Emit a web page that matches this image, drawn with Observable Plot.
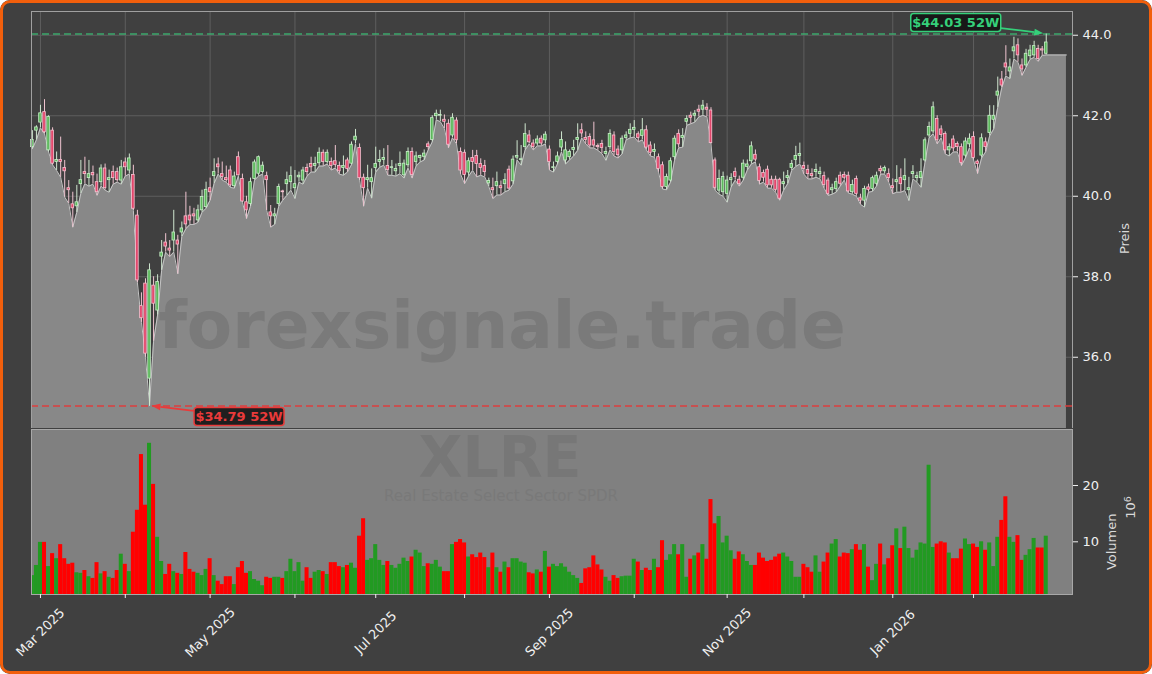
<!DOCTYPE html>
<html><head><meta charset="utf-8">
<script src="https://cdn.jsdelivr.net/npm/d3@7"></script>
<script src="https://cdn.jsdelivr.net/npm/@observablehq/plot@0.6"></script>
<style>
html,body{margin:0;padding:0;background:#ffffff;}
#card{position:relative;width:1152px;height:674px;background:#404040;overflow:hidden;border-radius:10px;}
#border{position:absolute;left:0;top:0;width:1152px;height:674px;box-sizing:border-box;border:3px solid #f25f0c;border-radius:10px;pointer-events:none;}
#price,#vol{position:absolute;left:0;}
#price{top:0;} #vol{top:400px;pointer-events:none;}
</style></head><body>
<div id="card"><div id="price"></div><div id="vol"></div><div id="border"></div></div>
<script>
// ---- data: one value per trading day, 27 Feb 2025 .. 27 Feb 2026 ----
const opens = [41.22,41.63,41.83,42.09,41.14,41.63,40.85,40.90,40.70,40.20,
39.80,39.75,40.30,40.60,40.45,40.58,40.35,40.35,40.69,40.40,
40.60,40.60,40.39,40.84,40.64,40.53,39.52,37.27,37.83,35.47,
37.78,37.16,38.50,38.85,38.70,38.90,38.90,39.10,39.50,39.52,
39.55,39.40,39.65,39.73,40.20,40.50,40.79,40.55,40.45,40.64,
40.25,40.97,40.43,39.85,39.81,40.43,40.56,40.60,40.50,39.60,
39.50,39.81,40.12,40.30,40.35,40.20,40.47,40.39,40.70,40.80,
40.75,40.82,41.08,40.85,40.85,40.87,40.75,40.70,40.89,40.81,
41.39,41.20,40.46,40.40,40.35,40.70,40.85,40.90,40.75,40.70,
40.62,40.75,40.52,40.77,41.10,40.85,40.95,40.98,41.29,41.40,
41.99,42.00,41.90,41.80,41.51,41.88,41.10,41.08,40.59,40.95,
41.00,40.80,40.75,40.32,40.20,40.25,40.25,40.30,40.66,40.37,
40.96,40.90,41.22,41.51,41.31,41.31,41.43,41.39,41.16,40.70,
40.85,41.21,40.89,40.97,41.15,41.40,41.64,41.45,41.47,41.39,
41.25,41.30,41.05,41.22,41.51,41.16,41.14,41.45,41.55,41.65,
41.54,41.50,41.64,41.26,41.10,40.97,40.77,40.23,40.39,40.97,
41.55,41.45,41.85,42.00,42.00,42.15,42.15,42.20,42.13,40.89,
40.14,40.10,40.06,40.40,40.60,40.41,40.46,40.73,40.87,41.03,
40.72,40.58,40.66,40.41,40.41,40.41,40.30,40.45,40.70,40.90,
41.00,40.75,40.65,40.55,40.60,40.55,40.50,40.39,40.15,40.18,
40.51,40.53,40.51,40.10,40.43,39.95,39.89,40.22,40.18,40.31,
40.68,40.62,40.55,40.25,40.35,40.45,40.40,40.15,40.55,40.45,
40.45,40.89,41.51,41.61,41.92,41.66,41.55,41.14,41.41,41.30,
41.22,41.01,41.29,41.47,40.86,41.01,41.34,41.57,41.90,42.50,
42.90,43.30,43.10,43.60,43.75,43.25,43.25,43.48,43.50,43.66,
43.65,43.54];
const highs = [41.63,41.75,42.26,42.40,42.00,41.70,41.10,41.47,40.89,40.39,
40.10,40.27,40.89,40.97,40.89,40.75,40.55,40.78,40.80,40.65,
40.75,40.70,40.89,40.95,41.05,40.77,39.65,37.60,37.95,38.32,
38.00,38.05,38.90,39.07,38.90,39.65,39.03,39.36,40.10,39.75,
39.70,39.78,40.15,40.35,40.45,40.93,40.95,40.85,40.75,40.75,
40.60,41.10,40.55,40.00,40.45,40.90,41.00,40.85,40.60,39.77,
39.70,40.30,40.15,40.60,40.73,40.64,40.60,40.72,40.80,40.97,
40.97,41.20,41.15,41.15,40.95,41.26,40.85,41.00,40.95,41.35,
41.66,41.30,40.55,40.77,40.68,41.22,41.14,41.18,41.26,40.89,
40.80,41.10,40.90,41.20,41.20,41.10,41.02,41.15,41.35,42.00,
42.14,42.14,42.02,41.90,42.05,41.95,41.20,41.15,40.95,41.14,
41.14,40.93,40.89,40.45,40.45,40.60,40.38,40.56,40.75,41.00,
41.38,41.26,41.80,41.63,41.40,41.50,41.50,41.60,41.25,40.85,
41.10,41.60,41.35,41.15,41.39,41.80,41.80,41.60,41.55,41.84,
41.30,41.39,41.22,41.65,41.60,41.25,41.50,41.60,41.80,41.88,
41.60,41.93,41.75,41.35,41.30,41.05,40.85,40.55,40.95,41.50,
41.65,41.68,42.00,42.09,42.13,42.26,42.38,42.30,42.20,40.95,
40.65,40.60,40.50,40.56,40.70,40.50,40.90,40.90,41.35,41.15,
40.80,40.65,40.75,40.50,40.50,40.45,40.60,40.64,40.89,41.24,
41.32,40.85,40.77,40.68,40.80,40.72,40.60,40.45,40.30,40.45,
40.60,40.60,40.60,40.40,40.50,40.05,40.25,40.30,40.50,40.60,
40.75,40.75,40.68,40.43,40.76,40.68,40.93,40.47,40.76,40.60,
40.93,41.45,41.84,42.34,42.00,41.75,41.60,41.30,41.50,41.35,
41.30,41.45,41.55,41.60,40.90,41.55,41.45,42.25,42.25,42.96,
43.10,43.74,43.41,43.95,43.91,43.41,43.65,43.75,43.85,43.75,
43.72,44.03];
const lows = [41.18,41.40,41.70,41.55,41.10,40.78,40.64,40.47,39.98,39.82,
39.23,39.60,40.07,40.31,40.25,40.30,40.02,40.25,40.15,40.10,
40.30,40.35,40.30,40.50,40.55,39.65,37.85,36.87,36.00,34.79,
36.40,37.05,38.16,38.61,38.50,38.61,38.07,39.00,39.19,39.30,
39.30,39.35,39.60,39.70,39.90,40.32,40.55,40.40,40.35,40.22,
40.20,40.50,39.85,39.44,39.75,40.40,40.50,40.55,39.65,39.23,
39.30,39.75,39.90,40.02,40.15,39.94,40.35,40.30,40.50,40.60,
40.60,40.75,40.75,40.80,40.65,40.70,40.55,40.52,40.60,40.78,
41.30,40.40,39.75,40.20,39.95,40.60,40.72,40.77,40.52,40.52,
40.50,40.56,40.45,40.70,40.45,40.75,40.85,40.90,41.15,41.35,
41.90,41.85,41.68,41.20,41.45,41.30,40.55,40.31,40.50,40.64,
40.48,40.52,40.48,40.24,39.94,40.03,40.03,40.11,40.15,40.30,
40.90,40.77,41.15,41.30,41.15,41.25,41.25,41.30,40.65,40.60,
40.80,41.10,40.80,40.90,41.00,41.14,41.45,41.30,41.20,41.20,
41.14,41.06,40.89,41.15,41.00,40.95,41.05,41.40,41.45,41.47,
41.35,41.40,41.15,41.00,40.97,40.60,40.18,40.16,40.35,40.90,
41.20,41.22,41.76,41.80,41.84,41.97,42.01,41.97,41.30,40.15,
40.05,40.00,39.85,40.23,40.40,40.25,40.40,40.65,40.80,40.85,
40.30,40.35,40.20,40.20,40.10,39.90,40.15,40.31,40.64,40.74,
40.80,40.55,40.43,40.43,40.47,40.43,40.20,40.02,40.05,40.10,
40.25,40.40,40.08,40.05,40.00,39.80,39.73,40.10,40.12,40.25,
40.55,40.55,40.35,40.06,40.10,40.10,40.14,39.89,40.43,40.35,
40.22,40.85,41.45,41.55,41.30,41.45,41.05,41.00,41.10,41.10,
40.76,40.95,41.20,40.90,40.56,40.95,41.10,41.50,41.67,42.21,
42.70,42.99,42.92,43.41,43.33,43.00,43.20,43.40,43.45,43.35,
43.50,43.51];
const closes = [41.40,41.71,42.06,41.59,41.97,40.81,40.90,40.85,40.62,40.15,
39.70,39.85,40.40,40.55,40.55,40.52,40.10,40.69,40.20,40.45,
40.45,40.40,40.72,40.72,40.94,39.69,37.91,36.97,36.09,38.16,
37.33,37.87,38.60,38.75,38.65,39.10,38.80,39.20,39.30,39.40,
39.50,39.65,39.98,40.16,40.10,40.60,40.72,40.48,40.40,40.27,
40.49,40.52,39.87,39.65,40.35,40.84,40.97,40.76,40.40,39.50,
39.55,40.23,40.10,40.40,40.50,40.30,40.51,40.64,40.60,40.72,
40.80,41.08,40.85,41.08,40.75,40.78,40.62,40.75,40.68,41.28,
41.48,40.45,40.20,40.45,40.45,40.80,40.90,40.95,40.65,40.72,
40.68,40.80,40.81,41.10,40.53,40.99,41.00,41.06,41.22,41.94,
42.05,42.02,41.85,41.28,41.95,41.39,40.64,40.53,40.87,40.85,
40.80,40.70,40.60,40.38,40.15,40.35,40.20,40.40,40.19,40.91,
41.00,40.92,41.55,41.34,41.22,41.41,41.31,41.53,40.85,40.72,
40.99,41.40,41.14,41.10,41.20,41.45,41.56,41.40,41.26,41.26,
41.22,41.20,41.10,41.55,41.10,41.02,41.43,41.51,41.65,41.70,
41.45,41.64,41.21,41.08,41.15,40.68,40.23,40.48,40.87,41.43,
41.29,41.50,41.92,41.95,42.05,42.10,42.25,42.15,41.32,40.21,
40.43,40.48,40.39,40.45,40.48,40.30,40.81,40.79,41.24,40.91,
40.38,40.46,40.27,40.27,40.16,39.94,40.35,40.50,40.80,41.00,
41.05,40.68,40.55,40.50,40.65,40.60,40.28,40.06,40.20,40.35,
40.31,40.46,40.12,40.28,40.06,39.89,40.18,40.16,40.45,40.51,
40.62,40.70,40.45,40.20,40.40,40.30,40.50,40.20,40.60,40.50,
40.60,41.39,41.72,42.21,41.39,41.52,41.14,41.22,41.19,41.22,
40.83,41.36,41.43,40.95,40.80,41.44,41.22,42.00,42.00,42.60,
42.75,43.20,43.20,43.70,43.50,43.15,43.54,43.62,43.73,43.41,
43.62,43.82];
// volume in millions of shares
const volumes = [4.0,5.8,9.9,9.9,5.6,7.9,7.0,9.5,7.0,6.0,
6.2,4.5,4.4,4.9,3.8,3.5,6.3,4.3,4.7,3.7,
3.5,4.9,7.8,6.0,4.7,11.7,15.6,25.5,16.5,27.5,
20.2,10.8,6.5,4.2,6.0,4.7,4.4,4.2,8.1,5.1,
4.6,4.4,4.0,5.1,7.0,4.0,3.0,2.4,3.8,3.8,
2.4,5.4,6.5,4.4,4.7,3.3,3.0,2.2,3.7,3.5,
3.7,3.7,3.5,4.7,6.9,4.7,6.3,3.0,5.4,3.5,
4.6,4.9,4.7,4.2,6.3,6.3,5.6,5.4,5.8,6.2,
5.3,11.0,14.1,6.7,7.0,9.5,6.7,5.8,6.5,5.8,
5.3,6.0,7.1,6.5,7.3,8.5,8.0,5.6,6.1,6.0,
6.7,5.5,4.7,4.7,9.5,9.9,10.4,9.8,7.3,7.7,
7.2,8.0,7.2,5.4,8.0,5.4,4.6,6.4,5.4,7.0,
7.0,6.4,6.2,4.5,4.3,5.0,4.6,8.3,5.5,6.0,
5.6,6.1,5.5,4.6,4.0,3.5,2.6,5.2,5.4,7.5,
5.9,5.0,3.7,3.0,4.0,3.5,3.8,3.9,3.9,6.9,
6.4,4.9,5.3,4.9,6.9,5.4,10.2,6.7,7.7,9.5,
7.7,9.5,3.7,6.9,7.5,8.0,9.5,6.9,17.5,13.2,
14.5,9.8,11.0,8.4,6.9,8.2,7.7,6.5,5.8,5.8,
8.0,7.1,6.5,6.7,7.3,7.8,8.0,7.3,6.5,3.7,
3.7,6.0,5.4,4.6,7.5,4.6,6.4,8.0,9.6,10.4,
7.3,8.0,7.9,8.6,9.5,8.5,9.5,5.5,3.1,6.0,
9.6,5.9,7.0,9.3,12.3,8.8,12.6,8.8,7.1,8.5,
9.8,9.6,23.6,9.0,9.6,10.0,9.8,8.0,7.0,7.0,
8.7,10.5,9.5,9.6,9.0,10.0,8.5,9.8,5.6,10.8,
13.8,18.0,10.8,9.9,11.1,6.7,7.6,8.6,10.6,8.9,
8.9,11.0];
// trading-day index of the first session of each month, and its label
const monthStart = [2,23,44,65,85,107,128,149,172,191,213,233];
const monthLabel = ["Mar 2025","","May 2025","","Jul 2025","","Sep 2025","","Nov 2025","","Jan 2026",""];
const priceTicks = [36,38,40,42,44];
const volTicks = [10,20];
const ticker = "XLRE";
const tickerName = "Real Estate Select Sector SPDR";
const watermark = "forexsignale.trade";

// ---- styles ----
const FONT = "DejaVu Sans";
const UP_BODY = "#5cb85c", UP_EDGE = "#c9efc9", UP_WICK = "#cfe6cf";
const DN_BODY = "#e2466b", DN_EDGE = "#f7c3d1", DN_WICK = "#efc4d0";
const VOL_UP = "#229a22", VOL_DN = "#ff0000";
const GREEN = "#35d07a", RED = "#ea3a3a";
const areaPadDays = 5;

const candles = opens.map((o, i) => ({i, o, h: highs[i], l: lows[i], c: closes[i], v: volumes[i], up: closes[i] >= opens[i]}));
const hiIdx = d3.maxIndex(highs), loIdx = d3.minIndex(lows);
const hi52 = highs[hiIdx], lo52 = lows[loIdx];
const areaData = candles.map(d => ({i: d.i, l: d.l}));
areaData.push({i: candles.length - 1 + areaPadDays, l: lows[lows.length - 1]});
const xDomain = [-0.22, 257.5];

function annotation(idx, value, label, color, offX, offY) {
  return (index, scales) => {
    const px = scales.x(idx), py = scales.y(value);
    const cx = px + offX, cy = py + offY, w = 90, h = 18;
    const dx = px - cx, dy = py - cy, len = Math.hypot(dx, dy), ux = dx / len, uy = dy / len;
    const t = Math.min((w / 2) / Math.abs(dx), (h / 2) / Math.abs(dy));
    const sx = cx + dx * t, sy = cy + dy * t;
    const ex = px - ux * 2.5, ey = py - uy * 2.5;
    const hl = 9, hw = 3.5, bx = ex - ux * hl, by = ey - uy * hl;
    const g = d3.create("svg:g");
    g.append("line").attr("x1", sx).attr("y1", sy).attr("x2", bx).attr("y2", by)
      .attr("stroke", color).attr("stroke-width", 1.8);
    g.append("path").attr("d", `M${ex},${ey}L${bx - uy * hw},${by + ux * hw}L${bx + uy * hw},${by - ux * hw}Z`).attr("fill", color);
    g.append("rect").attr("x", cx - w / 2).attr("y", cy - h / 2).attr("width", w).attr("height", h).attr("rx", 3)
      .attr("fill", "#141414").attr("fill-opacity", 0.9).attr("stroke", color).attr("stroke-width", 1.5);
    g.append("text").attr("x", cx).attr("y", cy).attr("dy", "0.36em").attr("text-anchor", "middle")
      .attr("fill", color).attr("font-weight", "bold").attr("font-size", 13).attr("font-family", FONT).text(label);
    return g.node();
  };
}

// rotated "10^6" multiplier label for the volume axis
function powerLabel(base, exp, offX, offY) {
  return (index, scales, values, dim) => {
    const x = dim.width - dim.marginRight + offX;
    const y = dim.marginTop + (dim.height - dim.marginTop - dim.marginBottom) / 2 + offY;
    const t = d3.create("svg:text").attr("transform", `translate(${x},${y}) rotate(-90)`)
      .attr("text-anchor", "middle").attr("dy", "0.32em").attr("fill", "#d9d9d9")
      .attr("font-family", FONT).attr("font-size", 13);
    t.append("tspan").text(base);
    t.append("tspan").attr("dy", "-0.45em").attr("font-size", 9.5).text(exp);
    return t.node();
  };
}

const price = Plot.plot({
  width: 1152, height: 428, marginLeft: 31, marginRight: 80, marginTop: 11, marginBottom: 0,
  style: {background: "transparent", fontFamily: FONT, fontSize: "13px", color: "#f0f0f0"},
  x: {domain: xDomain, axis: null},
  y: {domain: [34.23, 44.59], axis: null},
  color: {type: "identity"},
  marks: [
    Plot.ruleX(monthStart, {stroke: "#5e5e5e", strokeWidth: 1}),
    Plot.ruleY(priceTicks, {stroke: "#5e5e5e", strokeWidth: 1}),
    Plot.areaY(areaData, {x: "i", y: "l", fill: "#888888", clip: true}),
    Plot.lineY(areaData, {x: "i", y: "l", stroke: "#c4c4c4", strokeWidth: 1, clip: true}),
    Plot.text([watermark], {text: d => d, frameAnchor: "middle", dx: -50, dy: 107, fontSize: 66, fontWeight: "bold", fill: "#7a7a7a", lineAnchor: "middle"}),
    Plot.ruleY([hi52], {stroke: "#3cb371", strokeOpacity: 0.9, strokeWidth: 1.5, strokeDasharray: "7,4"}),
    Plot.ruleY([lo52], {stroke: "#e03a3a", strokeOpacity: 0.95, strokeWidth: 1.5, strokeDasharray: "7,4"}),
    Plot.ruleX(candles, {x: "i", y1: "l", y2: "h", stroke: d => d.up ? UP_WICK : DN_WICK, strokeWidth: 1}),
    Plot.rect(candles, {x1: d => d.i - 0.32, x2: d => d.i + 0.32, y1: "o", y2: "c",
      fill: d => d.up ? UP_BODY : DN_BODY, stroke: d => d.up ? UP_EDGE : DN_EDGE, strokeWidth: 0.8}),
    Plot.frame({stroke: "#a0a0a0"}),
    Plot.axisY({anchor: "right", ticks: priceTicks, tickFormat: d => d.toFixed(1), tickSize: 5, tickPadding: 5, label: null, fontSize: 13}),
    Plot.text(["Preis"], {text: d => d, frameAnchor: "right", dx: 52, dy: 3, rotate: -90, fill: "#d9d9d9", fontSize: 13, lineAnchor: "middle"}),
    annotation(hiIdx, hi52, `$${hi52.toFixed(2)} 52W`, GREEN, -90, -11),
    annotation(loIdx, lo52, `$${lo52.toFixed(2)} 52W`, RED, 90, 11)
  ]
});
document.getElementById("price").append(price);

const xLabels = monthStart.map((i, k) => ({i, label: monthLabel[k]})).filter(d => d.label);
const vol = Plot.plot({
  width: 1152, height: 274, marginLeft: 31, marginRight: 80, marginTop: 29, marginBottom: 80,
  style: {background: "transparent", fontFamily: FONT, fontSize: "13px", color: "#f0f0f0"},
  x: {domain: xDomain, axis: null},
  y: {domain: [0.64, 29.95], axis: null},
  color: {type: "identity"},
  marks: [
    Plot.frame({fill: "#808080"}),
    Plot.text([ticker], {text: d => d, frameAnchor: "middle", dx: -52, dy: -53, fontSize: 57, fontWeight: "bold", fill: "#777777", lineAnchor: "middle"}),
    Plot.text([tickerName], {text: d => d, frameAnchor: "middle", dx: -51, dy: -16, fontSize: 15, fill: "#797979", lineAnchor: "middle"}),
    Plot.rectY(candles, {x1: d => d.i - 0.5, x2: d => d.i + 0.5, y: "v", fill: d => d.up ? VOL_UP : VOL_DN, clip: true}),
    Plot.frame({stroke: "#a8a8a8"}),
    Plot.axisY({anchor: "right", ticks: volTicks, tickFormat: d => String(d), tickSize: 5, tickPadding: 5, label: null, fontSize: 13}),
    Plot.axisX({ticks: monthStart, tickSize: 4, tickFormat: () => "", label: null}),
    Plot.text(xLabels, {x: "i", text: "label", frameAnchor: "bottom", dy: 38, rotate: -45, textAnchor: "middle", lineAnchor: "middle", fill: "#f0f0f0", fontSize: 13}),
    Plot.text(["Volumen"], {text: d => d, frameAnchor: "right", dx: 39, dy: 1.5, rotate: -90, fill: "#d9d9d9", fontSize: 13, lineAnchor: "middle"}),
    powerLabel("10", "6", 59, -4)
  ]
});
document.getElementById("vol").append(vol);
</script>
</body></html>
